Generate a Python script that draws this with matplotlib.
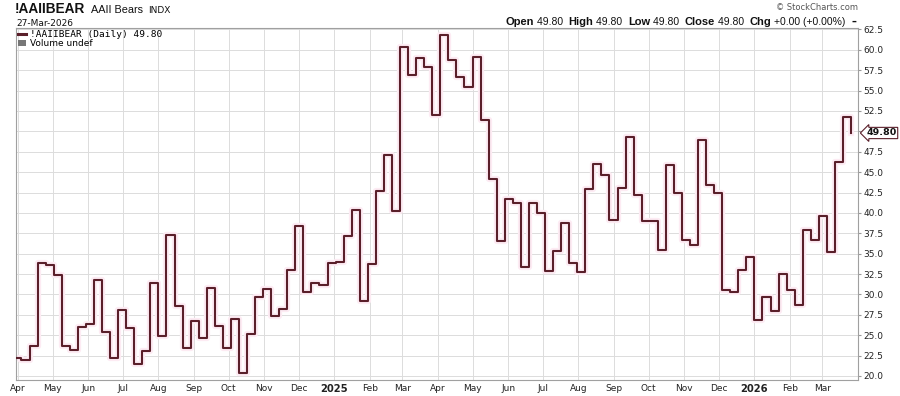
"""AAII bearish sentiment, StockCharts-style daily line (weekly readings)."""

import matplotlib
matplotlib.use("Agg")
import matplotlib.pyplot as plt
import numpy as np
import pandas as pd
from matplotlib.lines import Line2D
from matplotlib.patches import Patch
from matplotlib.offsetbox import TextArea, HPacker, AnchoredOffsetbox

# ---------------------------------------------------------------------------
# Data: weekly AAII bearish readings (%), Thursdays from 28-Mar-2024
# ---------------------------------------------------------------------------
FIRST_WEEK = "2024-03-28"
bears = [22.2, 22.0, 23.7, 33.8, 33.6, 32.4, 23.7, 23.2, 26.0, 26.4,
         31.8, 25.4, 22.2, 28.1, 25.9, 21.5, 23.1, 31.4, 24.9, 37.3,
         28.6, 23.4, 26.7, 24.6, 30.8, 26.1, 23.4, 27.0, 20.3, 25.2,
         29.7, 30.7, 27.3, 28.2, 33.0, 38.4, 30.3, 31.4, 31.2, 33.8,
         34.0, 37.2, 40.4, 29.2, 33.7, 42.7, 47.1, 40.2, 60.4, 56.9,
         59.0, 57.9, 52.0, 61.8, 58.8, 56.7, 55.5, 59.1, 51.4, 44.1,
         36.5, 41.7, 41.2, 33.4, 41.2, 40.0, 32.9, 35.3, 38.7, 33.8,
         32.8, 42.9, 46.0, 44.7, 39.1, 43.1, 49.3, 42.2, 39.0, 39.0,
         35.4, 45.9, 42.4, 36.7, 36.1, 49.0, 43.4, 42.4, 30.6, 30.3,
         33.0, 34.6, 26.8, 29.7, 28.0, 32.5, 30.6, 28.7, 37.9, 36.7,
         39.6, 35.2, 46.3, 51.8, 49.8]
dates = pd.date_range(FIRST_WEEK, periods=len(bears), freq="7D")

month_ticks = pd.date_range("2024-04-01", "2026-03-01", freq="MS")
month_labels = [str(d.year) if d.month == 1 else d.strftime("%b") for d in month_ticks]
y_ticks = np.arange(20.0, 62.6, 2.5)

last = bears[-1]
header_fields = [("Open", "49.80"), ("High", "49.80"), ("Low", "49.80"),
                 ("Close", "49.80"), ("Chg", "+0.00 (+0.00%)")]

LINE_COLOR = "#5a1f2a"
GRID_COLOR = "#dcdcdc"
FONT = "DejaVu Sans"
ARIAL = "Liberation Sans"

# ---------------------------------------------------------------------------
# Plot
# ---------------------------------------------------------------------------
plt.rcParams["font.family"] = FONT
fig = plt.figure(figsize=(9.0, 3.96), dpi=100)
ax = fig.add_axes([16 / 900, 1 - 380 / 396, 842 / 900, 352 / 396])

ax.plot(dates, bears, drawstyle="steps-post", color="#fdebf3", lw=4.5, zorder=2)
ax.plot(dates, bears, drawstyle="steps-post", color=LINE_COLOR, lw=1.5, zorder=3)

ax.set_xlim(pd.Timestamp("2024-03-30 06:00"), pd.Timestamp("2026-04-01"))
ax.set_ylim(19.5, 62.68)

ax.set_xticks(month_ticks)
ax.set_xticklabels(month_labels, fontsize=6.5)
for lbl, d in zip(ax.get_xticklabels(), month_ticks):
    if d.month == 1:
        lbl.set_fontweight("bold")
        lbl.set_fontsize(7.2)
ax.set_yticks(y_ticks)
# the 50.0 label sits under the last-value tag
ax.set_yticklabels(["" if abs(v - 50.0) < 1e-6 else f"{v:.1f}" for v in y_ticks],
                   fontsize=6.5, color="#222222")
ax.yaxis.tick_right()
ax.tick_params(axis="y", length=2, pad=2, color="#999999")
ax.tick_params(axis="x", length=0, pad=3, colors="#222222")

ax.grid(True, color=GRID_COLOR, lw=0.7)
ax.set_axisbelow(True)
for s in ax.spines.values():
    s.set_color("#a0a0a0")
    s.set_linewidth(0.8)

# legend
handles = [Line2D([], [], color=LINE_COLOR, lw=2.2),
           Patch(facecolor="#777777", edgecolor="none")]
leg = ax.legend(handles, [f"!AAIIBEAR (Daily) {last:.2f}", "Volume undef"],
                loc="upper left", frameon=False,
                prop={"family": "DejaVu Sans Mono", "size": 6.8},
                handlelength=0.8, handleheight=0.6, handletextpad=0.4,
                labelspacing=0.0, borderaxespad=0.15, borderpad=0.1)
leg.get_texts()[1].set_fontfamily(FONT)
leg.get_texts()[1].set_fontsize(6.5)

# price tag on the right axis
ax.annotate(f"{last:.2f}", xy=(1.0, last), xycoords=("axes fraction", "data"),
            xytext=(6, 0), textcoords="offset points", va="center", ha="left",
            fontsize=6.8, fontweight="bold", color="#111111",
            bbox=dict(boxstyle="larrow,pad=0.12", fc="white", ec=LINE_COLOR, lw=0.8),
            annotation_clip=False)

# title block
title = HPacker(children=[
    TextArea("!AAIIBEAR", textprops=dict(family=ARIAL, fontsize=9.8, fontweight="bold",
                                         color="#111111")),
    TextArea("AAII Bears", textprops=dict(family=ARIAL, fontsize=7.8, color="#111111")),
    TextArea("INDX", textprops=dict(fontsize=6.5, color="#111111")),
], align="baseline", pad=0, sep=4)
fig.add_artist(AnchoredOffsetbox(loc="upper left", child=title, frameon=False,
                                 bbox_to_anchor=(15 / 900, 1 - 2 / 396),
                                 bbox_transform=fig.transFigure, pad=0, borderpad=0))
fig.text(16 / 900, 1 - 23 / 396, "27-Mar-2026", fontsize=6.5, va="center",
         color="#111111")

# header on the right
parts = []
for name, val in header_fields:
    parts.append(TextArea(name, textprops=dict(family=ARIAL, fontsize=8, fontweight="bold",
                                               color="#111111")))
    parts.append(TextArea(val + " ", textprops=dict(family=ARIAL, fontsize=7.5,
                                                    color="#111111")))
parts.append(TextArea("\u2013", textprops=dict(fontsize=7, fontweight="bold", color="#111111")))
header = HPacker(children=parts, align="baseline", pad=0, sep=2)
fig.add_artist(AnchoredOffsetbox(loc="center right", child=header, frameon=False,
                                 bbox_to_anchor=(856 / 900, 1 - 22 / 396),
                                 bbox_transform=fig.transFigure, pad=0, borderpad=0))
fig.text(858 / 900, 1 - 8 / 396, "\u00a9 StockCharts.com", fontsize=6, ha="right",
         va="center", color="#555555")

fig.savefig("out.png", dpi=100)
